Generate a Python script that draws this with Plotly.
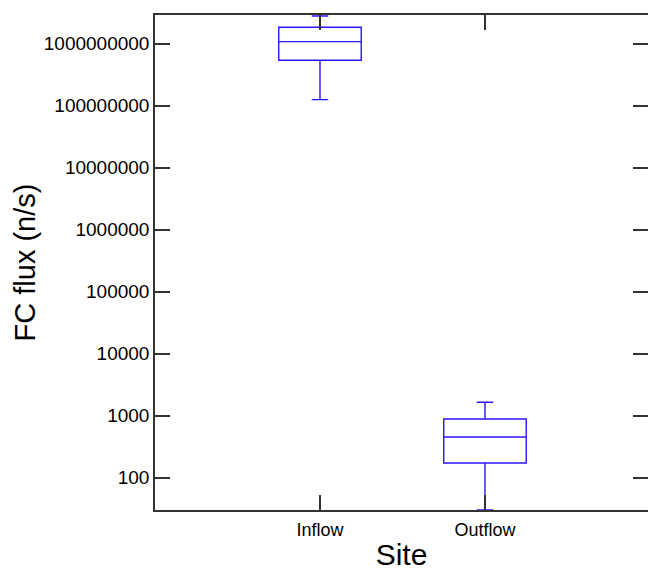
import plotly.graph_objects as go

# Summary statistics of fecal coliform flux per sampling site (n/s)
sites = ["Inflow", "Outflow"]
q1_vals = [5.4e8, 172]
median_vals = [1.08e9, 452]
q3_vals = [1.84e9, 883]
lower_fence = [1.25e8, 30]
upper_fence = [2.8e9, 1644]

tick_values = [100, 1000, 10000, 100000, 1000000, 10000000, 100000000, 1000000000]
tick_labels = ["100", "1000", "10000", "100000", "1000000", "10000000",
               "100000000", "1000000000"]

BLUE = "#2a14ff"
AXIS = "#333333"
FONT = "Liberation Sans, Arial, sans-serif"

fig = go.Figure()
fig.add_trace(go.Box(
    x=sites,
    q1=q1_vals,
    median=median_vals,
    q3=q3_vals,
    lowerfence=lower_fence,
    upperfence=upper_fence,
    width=0.5,
    whiskerwidth=0.2,
    line=dict(color=BLUE, width=1.4),
    fillcolor="rgba(0,0,0,0)",
    boxpoints=False,
    showlegend=False,
))
# invisible trace on the secondary axis so its ticks are drawn on the right
fig.add_trace(go.Scatter(x=sites, y=median_vals, yaxis="y2", mode="markers",
                         marker=dict(opacity=0), showlegend=False, hoverinfo="skip"))

fig.update_layout(
    width=648,
    height=571,
    margin=dict(l=155, r=0, t=15, b=61),
    paper_bgcolor="white",
    plot_bgcolor="white",
    font=dict(family=FONT, color="black"),
    xaxis=dict(
        type="category",
        range=[-1, 1.988],
        showline=True,
        linecolor=AXIS,
        linewidth=1.5,
        mirror="ticks",
        ticks="inside",
        ticklen=15,
        tickcolor=AXIS,
        tickwidth=1.5,
        showgrid=False,
        zeroline=False,
        tickfont=dict(size=18),
        ticklabelstandoff=3,
        title=dict(text="Site", font=dict(size=30), standoff=7),
    ),
    yaxis=dict(
        type="log",
        range=[1.477, 9.463],
        tickvals=tick_values,
        ticktext=tick_labels,
        showline=True,
        linecolor=AXIS,
        linewidth=1.5,
        mirror=False,
        ticks="inside",
        ticklen=15,
        tickcolor=AXIS,
        tickwidth=1.5,
        showgrid=False,
        zeroline=False,
        tickfont=dict(size=19),
        title=dict(text="FC flux (n/s)", font=dict(size=29), standoff=0),
    ),
    yaxis2=dict(
        type="log",
        range=[1.477, 9.463],
        overlaying="y",
        side="right",
        tickvals=tick_values,
        showticklabels=False,
        showline=False,
        ticks="inside",
        ticklen=15,
        tickcolor=AXIS,
        tickwidth=1.5,
        showgrid=False,
        zeroline=False,
    ),
)

fig.write_html("out.html")
